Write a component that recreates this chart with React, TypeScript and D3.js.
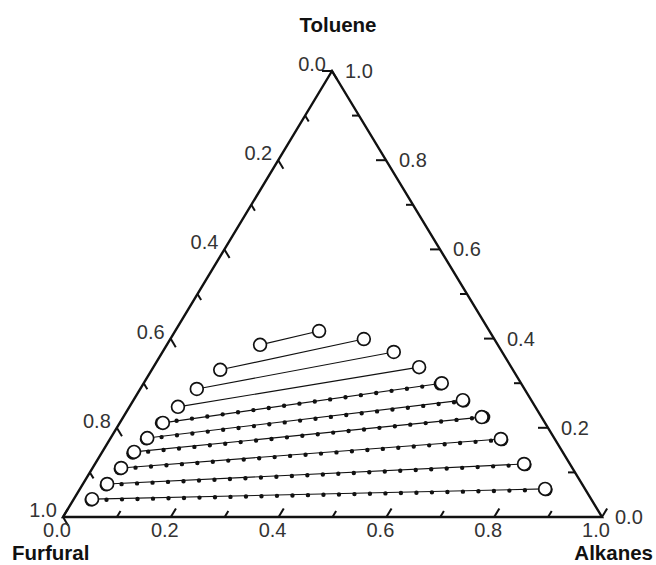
import React, { useRef, useEffect } from 'react';
import * as d3 from 'd3';

// tick values on each side of the triangle
const majorTicks = [0, 0.2, 0.4, 0.6, 0.8, 1.0];
const minorTicks = [0.1, 0.3, 0.5, 0.7, 0.9];
const tickLabels = ['0.0', '0.2', '0.4', '0.6', '0.8', '1.0'];

// experimental tie lines, [toluene, alkanes] mass fraction (furfural = rest)
const expExtract = [
  [0.386, 0.173], [0.330, 0.127], [0.287, 0.105], [0.247, 0.090], [0.211, 0.080],
  [0.177, 0.068], [0.146, 0.059], [0.110, 0.053], [0.074, 0.045], [0.040, 0.034]
];
const expRaffinate = [
  [0.417, 0.267], [0.399, 0.359], [0.370, 0.429], [0.336, 0.493], [0.300, 0.553],
  [0.262, 0.611], [0.224, 0.665], [0.175, 0.725], [0.119, 0.796], [0.063, 0.863]
];

// calculated tie lines
const calcExtract = [
  [0.211, 0.077], [0.175, 0.067], [0.143, 0.058], [0.108, 0.052], [0.072, 0.044], [0.038, 0.033]
];
const calcRaffinate = [
  [0.298, 0.551], [0.260, 0.614], [0.224, 0.669], [0.173, 0.728], [0.117, 0.799], [0.061, 0.866]
];

const FONT = '"Liberation Sans", Arial, Helvetica, sans-serif';

const TernaryChart = () => {
  const svgRef = useRef(null);

  useEffect(() => {
    const svg = d3.select(svgRef.current);
    svg.selectAll('*').remove();

    const left = { x: 63, y: 517 };
    const right = { x: 602, y: 517 };
    const top = { x: 332, y: 71 };

    // toluene -> vertical position, alkanes -> along the base
    const tY = d3.scaleLinear().domain([0, 1]).range([left.y, top.y]);
    const tX = d3.scaleLinear().domain([0, 1]).range([0, top.x - left.x]);
    const aX = d3.scaleLinear().domain([0, 1]).range([0, right.x - left.x]);
    const project = (t, a) => [left.x + aX(a) + tX(t), tY(t)];

    const unit = (p, q) => {
      const dx = q.x - p.x, dy = q.y - p.y;
      const l = Math.hypot(dx, dy);
      return [dx / l, dy / l];
    };

    // each axis: position of a value, tick direction, label placement
    const axes = [
      { // furfural, left side
        pos: v => project(1 - v, 0),
        dir: unit(top, right),
        label: (p, s) => s.attr('x', p[0] - 6).attr('y', p[1]).attr('text-anchor', 'end')
      },
      { // toluene, right side
        pos: v => project(v, 1 - v),
        dir: [-1, 0],
        label: (p, s) => s.attr('x', p[0] + 13).attr('y', p[1] + 7).attr('text-anchor', 'start')
      },
      { // alkanes, base
        pos: v => project(0, v),
        dir: unit(left, top),
        label: (p, s) => s.attr('x', p[0] - 6).attr('y', p[1] + 20).attr('text-anchor', 'middle')
      }
    ];

    // triangle frame
    svg.append('path')
      .attr('d', d3.line()([project(1, 0), project(0, 0), project(0, 1)]) + 'Z')
      .attr('fill', 'none')
      .attr('stroke', '#111')
      .attr('stroke-width', 2.4)
      .attr('stroke-linejoin', 'miter');

    axes.forEach(ax => {
      const g = svg.append('g');
      const drawTick = (v, len) => {
        const p = ax.pos(v);
        g.append('line')
          .attr('x1', p[0]).attr('y1', p[1])
          .attr('x2', p[0] + ax.dir[0] * len).attr('y2', p[1] + ax.dir[1] * len)
          .attr('stroke', '#111')
          .attr('stroke-width', 2);
      };
      majorTicks.forEach(v => drawTick(v, 10));
      minorTicks.forEach(v => drawTick(v, 7));

      majorTicks.forEach((v, i) => {
        const t = g.append('text')
          .attr('font-family', FONT)
          .attr('font-size', 20)
          .attr('fill', '#333')
          .text(tickLabels[i]);
        ax.label(ax.pos(v), t);
      });
    });

    // component names
    const names = [
      { text: 'Toluene', x: 338, y: 32, anchor: 'middle' },
      { text: 'Furfural', x: 12, y: 560, anchor: 'start' },
      { text: 'Alkanes', x: 653, y: 560, anchor: 'end' }
    ];
    svg.selectAll('text.name')
      .data(names)
      .enter()
      .append('text')
      .attr('class', 'name')
      .attr('x', d => d.x)
      .attr('y', d => d.y)
      .attr('text-anchor', d => d.anchor)
      .attr('font-family', FONT)
      .attr('font-size', 20.5)
      .attr('font-weight', 'bold')
      .attr('fill', '#111')
      .text(d => d.text);

    const expLines = expExtract.map((d, i) => [project(d[0], d[1]), project(expRaffinate[i][0], expRaffinate[i][1])]);
    const calcLines = calcExtract.map((d, i) => [project(d[0], d[1]), project(calcRaffinate[i][0], calcRaffinate[i][1])]);

    // experimental tie lines
    svg.append('g')
      .selectAll('line')
      .data(expLines)
      .enter()
      .append('line')
      .attr('x1', d => d[0][0]).attr('y1', d => d[0][1])
      .attr('x2', d => d[1][0]).attr('y2', d => d[1][1])
      .attr('stroke', '#111')
      .attr('stroke-width', 1.1);

    // calculated tie lines (dotted)
    svg.append('g')
      .selectAll('line')
      .data(calcLines)
      .enter()
      .append('line')
      .attr('x1', d => d[0][0]).attr('y1', d => d[0][1])
      .attr('x2', d => d[1][0]).attr('y2', d => d[1][1])
      .attr('stroke', '#111')
      .attr('stroke-width', 4.4)
      .attr('stroke-linecap', 'round')
      .attr('stroke-dasharray', '0 15.5');

    // calculated end points (filled, mostly hidden)
    svg.append('g')
      .selectAll('circle')
      .data(calcLines.flat())
      .enter()
      .append('circle')
      .attr('cx', d => d[0]).attr('cy', d => d[1])
      .attr('r', 6.5)
      .attr('fill', '#111');

    // experimental end points (open)
    svg.append('g')
      .selectAll('circle')
      .data(expLines.flat())
      .enter()
      .append('circle')
      .attr('cx', d => d[0]).attr('cy', d => d[1])
      .attr('r', 6.4)
      .attr('fill', '#fff')
      .attr('stroke', '#111')
      .attr('stroke-width', 1.7);
  }, []);

  return (
    <svg
      ref={svgRef}
      width={656}
      height={565}
      style={{ position: 'absolute', left: 0, top: 0, background: '#fff' }}
    />
  );
};

export default function App() {
  return <TernaryChart />;
}
